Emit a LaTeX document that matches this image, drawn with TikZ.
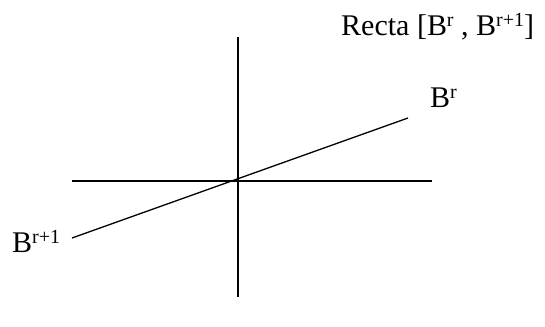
\documentclass[tikz,border=0pt]{standalone}
\usepackage{fontspec}
\setmainfont{Liberation Serif}
\usetikzlibrary{positioning}
\newcommand{\upidx}[1]{\raisebox{9.5pt}{\fontsize{20}{20}\selectfont #1}}

\begin{document}
\begin{tikzpicture}[x=1pt,y=1pt,
    axisline/.style={line width=1.3pt},
    lbl/.style={inner sep=0pt,font=\fontsize{30}{33}\selectfont}]
    \useasboundingbox (0,0) rectangle (545,326);
    \coordinate (axisTop) at (238,289);
    \coordinate (axisBottom) at (238,29);
    \coordinate (axisLeft) at (72,145);
    \coordinate (axisRight) at (432,145);
    \coordinate (rectaLow) at (72,88);
    \coordinate (rectaHigh) at (408,208);
    \draw[axisline] (axisTop) -- (axisBottom);
    \draw[axisline] (axisLeft) -- (axisRight);
    \draw[axisline] (rectaLow) -- (rectaHigh);
    \node[lbl,anchor=base west] (title) at (341,290)
      {Recta [B\upidx{r} , B\upidx{r+1}]};
    \node[lbl,anchor=base west] (bR) at (430,218) {B\upidx{r}};
    \node[lbl,anchor=base west] (bRone) at (12,73) {B\upidx{r+1}};
  \end{tikzpicture}
\end{document}
